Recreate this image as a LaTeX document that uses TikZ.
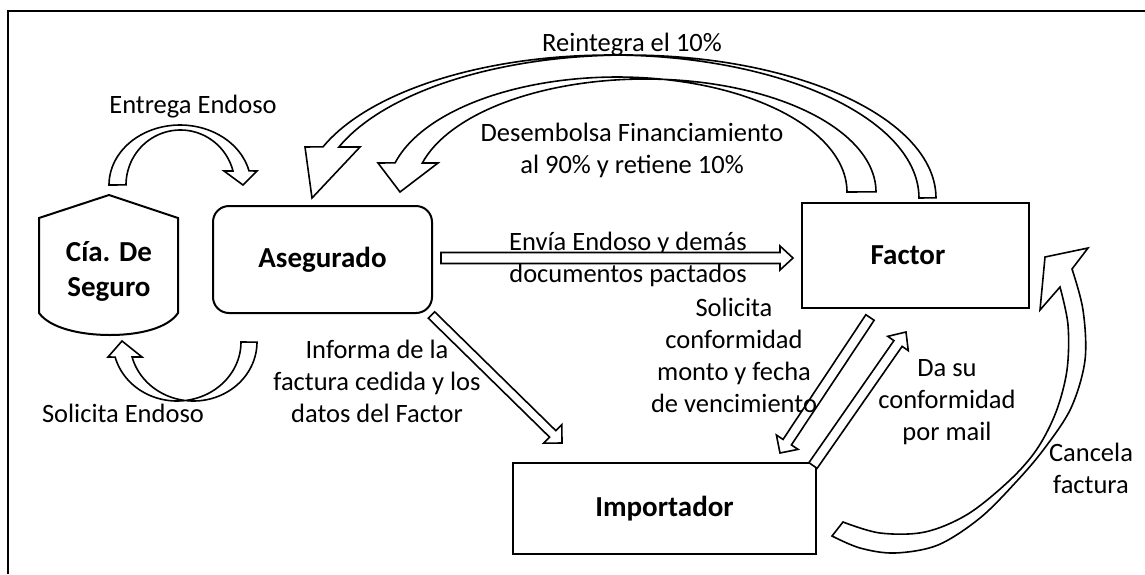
\documentclass[tikz,border=0pt]{standalone}
\usepackage{fontspec}
\setmainfont{Carlito}
\usetikzlibrary{calc}
% block arrow: start, end, shaft half width, head half width, head length
\newcommand\bArrow[5]{%
  \coordinate (ba-h) at ($(#2)!#5!(#1)$);
  \draw[barrow] ($(#1)!#3!90:(#2)$) -- ($(ba-h)!#3!90:(#2)$) -- ($(ba-h)!#4!90:(#2)$)
    -- (#2) -- ($(ba-h)!#4!-90:(#2)$) -- ($(ba-h)!#3!-90:(#2)$) -- ($(#1)!#3!-90:(#2)$) -- cycle;}
\begin{document}
\begin{tikzpicture}[x=1pt,y=-1pt,
  box/.style={draw, line width=2pt, font=\bfseries\fontsize{29}{35}\selectfont, inner sep=0pt},
  lbl/.style={font=\fontsize{26.5}{32}\selectfont, align=center, inner sep=0pt},
  blbl/.style={font=\bfseries\fontsize{29}{35}\selectfont, align=center, inner sep=0pt},
  barrow/.style={draw, fill=white, line width=1.6pt, line join=miter}]
\useasboundingbox (0,0) rectangle (1145,574);
% frame
\draw[line width=2pt] (7.7,574) -- (7.7,11) -- (1145,11);

% Cia. de Seguro
\draw[line width=2pt, fill=white] (109,195) -- (178,218) -- (178,313)
  .. controls (168,328) and (140,335) .. (110,335)
  .. controls (80,335) and (50,328) .. (39,313) -- (39,218) -- cycle;
\node[blbl] (cia) at (109,271) {Cía. De\\Seguro};

% boxes
\node[box, rounded corners=16pt, minimum width=219pt, minimum height=107pt] (aseg) at (322.5,259.5) {Asegurado};
\node[box, minimum width=227pt, minimum height=105pt] (factor) at (915.5,255.5) {\hspace*{-15pt}Factor};
\node[box, minimum width=303pt, minimum height=91pt] (imp) at (664.5,508.5) {Importador};

% label under the Envia arrow
\node[lbl] (lEnvia) at (628,259) {Envía Endoso y demás\\documentos pactados};

% Entrega Endoso (Cia -> Asegurado)
\draw[barrow] plot[domain=0:1,samples=60] ({180+71*cos(180+166.5*\x)},{185+60*sin(180+166.5*\x)})
  -- (257,171) -- (243,185) -- (224,171)
  -- plot[domain=0:1,samples=60] ({180.4+54.4*cos(345.3-165.3*\x)},{185+55*sin(345.3-165.3*\x)}) -- cycle;

% Solicita Endoso (Asegurado -> Cia)
\draw[barrow] plot[domain=0:1,samples=60] ({177+64*cos(165.3*\x)},{342+59*sin(165.3*\x)})
  -- (108,357) -- (122,341) -- (142,357)
  -- plot[domain=0:1,samples=60] ({193.5+63.5*cos(165.3-165.3*\x)},{342+59*sin(165.3-165.3*\x)}) -- cycle;

% Reintegra el 10% (Factor -> Asegurado)
\draw[barrow] plot[domain=0:1,samples=90] ({610.8+308.2*cos(360-159.1*\x)},{198+143*sin(360-159.1*\x)})
  -- (305,147) -- (312,198) -- (360,147)
  -- plot[domain=0:1,samples=90] ({627.3+308.7*cos(200.9+159.1*\x)},{198+143*sin(200.9+159.1*\x)}) -- cycle;

% Desembolsa (Factor -> Asegurado)
\draw[barrow] plot[domain=0:1,samples=90] ({617.3+229.7*cos(360-165.4*\x)},{192+115*sin(360-165.4*\x)})
  -- (378,163) -- (400,192) -- (438,163)
  -- plot[domain=0:1,samples=90] ({645.3+230.7*cos(194.87+165.13*\x)},{192+113*sin(194.87+165.13*\x)}) -- cycle;

% Cancela factura (Importador -> Factor)
\draw[barrow] plot[smooth, tension=0.55] coordinates {(1072,269) (1083,310) (1085,360) (1071,408) (1044,449) (1016,482) (980,518) (938,545) (895,553) (860,548) (832,536)}
  -- plot[smooth, tension=0.55] coordinates {(843,522) (880,533) (925,532) (968,514) (1010,480) (1037,449) (1056,412) (1067,370) (1068,325) (1060,287)}
  -- (1040,310) -- (1045,257) -- (1088,248) -- cycle;

% straight block arrows
\coordinate (envS) at (441,258); \coordinate (envE) at (793,258);
\bArrow{envS}{envE}{5.5pt}{12pt}{13pt}
\coordinate (infS) at (431.5,315); \coordinate (infE) at (562,443);
\bArrow{infS}{infE}{4.5pt}{13pt}{13pt}
\coordinate (solS) at (870,317.5); \coordinate (solE) at (780,453);
\bArrow{solS}{solE}{5pt}{13pt}{13pt}
\coordinate (daS) at (813,465.5); \coordinate (daE) at (906,332);
\bArrow{daS}{daE}{5pt}{12.5pt}{14pt}

% labels
\node[lbl] (lEntrega) at (193,107) {Entrega Endoso};
\node[lbl] (lReint) at (632,45) {Reintegra el 10\%};
\node[lbl] (lDesem) at (632,150) {Desembolsa Financiamiento\\al 90\% y retiene 10\%};
\node[lbl] (lInforma) at (377,381) {Informa de la\\factura cedida y los\\datos del Factor};
\node[lbl] (lSolEnd) at (123,413) {Solicita Endoso};
\node[lbl] (lSolConf) at (734,355) {Solicita\\conformidad\\monto y fecha\\de vencimiento};
\node[lbl] (lDasu) at (947,402) {Da su\\conformidad\\por mail};
\node[lbl] (lCancela) at (1091,468) {Cancela\\factura};
\end{tikzpicture}
\end{document}
